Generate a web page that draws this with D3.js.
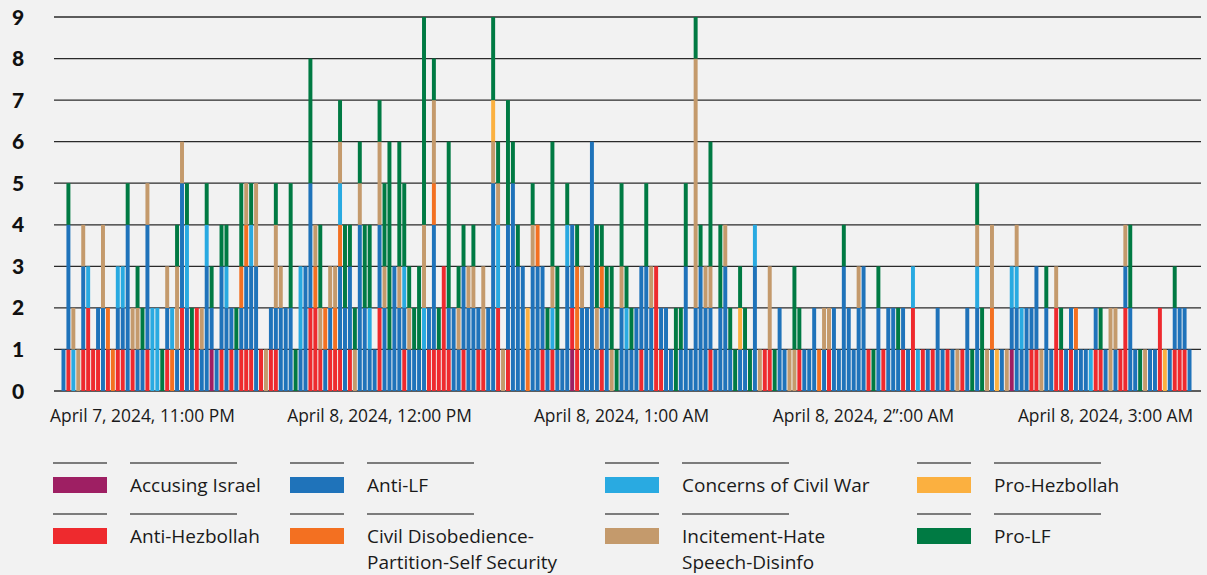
<!DOCTYPE html>
<html>
<head>
<meta charset="utf-8">
<script src="https://cdn.jsdelivr.net/npm/d3@7"></script>
<style>
  html, body { margin: 0; padding: 0; background: #f2f2f2; }
  svg { display: block; font-family: "Open Sans", Lato, sans-serif; }
</style>
</head>
<body>
<svg id="chart" width="1207" height="575"></svg>
<script>
// categories in stacking order (bottom -> top), with the short code used in `bars`
const categories = ["Accusing Israel", "Anti-Hezbollah", "Anti-LF",
  "Civil Disobedience-Partition-Self Security", "Concerns of Civil War",
  "Incitement-Hate Speech-Disinfo", "Pro-Hezbollah", "Pro-LF"];
const categoryCodes = ["A", "H", "L", "D", "C", "I", "Z", "P"];
const categoryColors = ["#9e1f63", "#ee2a2e", "#1f73ba", "#f37021", "#29aae1", "#c49a6c", "#fbb040", "#007a43"];

// one entry per time bar: counts per category code
const bars = [
  "L1","H1L3P1","C1I1","I1","H1L2I1","H2C1","H1","H1L1","L2I2","H1D1",
  "D1","H1L1C1","H1L1C1","L4P1","H1I1","L1I1P1","L1P1","H1L3I1","C2","C2",
  "P1","H1L1I1","D1C1","L1I2P1","H2L3I1","L2C2P1","L1P1","H2","L1I1","L3C1P1",
  "A1L1P1","L1","H1L2P1","L2C1P1","H1L1","L1P1","H1L1D1P2","H1L2D1I1","H1L2C1P1","L3I2",
  "H1","I1","H1L1","H1L1I2P1","L2I1","L2","L2P3","P1","L1C2","L3",
  "H2L3P3","H2D1I1","H1I1P2","L1D1","H1L1I1","H1D1I1","H1L2D1C1I1P1","L2P2","H1L2P1","I1P1",
  "L4I1P1","L2P2","L1C1P2","L1","H2L2I2P1","L2I1P2","L1P5","L3","L2I1P3","H1L1C1P2",
  "L1I1P1","L1P1","L1P2","L1C1I2P5","H1L1","H1L3D1I2P1","H1P1","H3","H1L1P4","L2",
  "L1I1P1","H1L2P1","L2I1","L2I1P1","H1L1","H1I2","L2","L5I1Z1P2","H2C2I1P1","I1",
  "H1L3P3","L5P1","L3P1","L3","D1Z1","L3I1P1","L3D1","H1L2","L1P1","H1C1I1P3",
  "L1P2","L1","L3C1P1","A1H1L2","H1D2P1","L2I1","L2","L6","L1I1P2","H1L1D1P1",
  "L2P1","I1P2","P1","L2I1P2","L1C1P1","L1P1","L2","H1L2","L3P2","L2I1",
  "H3","H1L1","L2","L1","P2","L1P1","L3P2","L1","L2I6P1","L3P1",
  "L2I1","H1L1I1P3","L1","L2P2","L3I1","L1P1","P1","L1Z1P1","L1P1","P1",
  "L3C1","I1","H1","H1I2","P1","L2","L1","I1","I1P2","H1P1",
  "L1","L1","L2","D1","L1I1","H1I1","L2","L1","L3P1","L2",
  "L1","L2I1","L3","H1","P1","L2P1","H1","L2","L2","L1P1",
  "H1L1","L1","H2C1","C1","H1","L1","H1","L2","L1","H1",
  "L1","I1","H1","L2","P1","L2C1I1P1","P2","I1","L1D1I2","Z1",
  "L1","I1","A1L1C1","L2C1I1","L1C1","L2","H1L1","H1L2","I1","L2P1",
  "L1","H2I1","H1P1","L1","H1L1","L1D1","L1","L1","C1","H1L1",
  "H1P1","L1","I2","L1I1","H1","H2L1I1","L2P2","L1","P1","I1",
  "L1","L1","H2","Z1","L1","H1L1P1","H1L1","H1L1","L1"
];

// x-axis labels and the bar they sit under
const tickIndex = [16, 64, 113, 162, 211];
const tickLabels = ["April 7, 2024, 11:00 PM", "April 8, 2024, 12:00 PM",
  "April 8, 2024, 1:00 AM", "April 8, 2024, 2\u201D:00 AM", "April 8, 2024, 3:00 AM"];
const yTicks = [0, 1, 2, 3, 4, 5, 6, 7, 8, 9];

// build the table d3.stack needs
const rows = bars.map((code, i) => {
  const row = { i };
  categoryCodes.forEach(k => row[k] = 0);
  for (const m of code.matchAll(/([A-Z])(\d+)/g)) row[m[1]] += +m[2];
  return row;
});

const svg = d3.select("#chart");

const x = d3.scaleBand()
  .domain(rows.map(d => d.i))
  .range([61, 1192])
  .paddingInner(0.2)
  .paddingOuter(0.1);

const y = d3.scaleLinear().domain([0, 9]).range([391, 17]);

const color = d3.scaleOrdinal().domain(categoryCodes).range(categoryColors);

// gridlines
svg.append("g").attr("class", "grid")
  .selectAll("line")
  .data(yTicks)
  .join("line")
  .attr("x1", 54).attr("x2", 1201)
  .attr("y1", d => y(d)).attr("y2", d => y(d))
  .attr("stroke", "#2a2a2a")
  .attr("stroke-width", 1.3);

// y labels
svg.append("g").attr("class", "y-labels")
  .selectAll("text")
  .data(yTicks)
  .join("text")
  .attr("x", 18)
  .attr("y", d => y(d))
  .attr("dy", "0.36em")
  .attr("text-anchor", "middle")
  .attr("font-family", "Lato, sans-serif")
  .attr("font-size", 21)
  .attr("font-weight", 900)
  .attr("fill", "#111")
  .text(d => d);

// stacked bars
const series = d3.stack().keys(categoryCodes)(rows);

svg.append("g").attr("class", "bars")
  .selectAll("g")
  .data(series)
  .join("g")
  .attr("fill", d => color(d.key))
  .selectAll("rect")
  .data(d => d.filter(s => s[1] > s[0]))
  .join("rect")
  .attr("x", d => x(d.data.i))
  .attr("y", d => y(d[1]))
  .attr("width", x.bandwidth())
  .attr("height", d => y(d[0]) - y(d[1]));

// x labels
svg.append("g").attr("class", "x-labels")
  .selectAll("text")
  .data(tickIndex)
  .join("text")
  .attr("x", d => x(d) + x.bandwidth() / 2)
  .attr("y", 422)
  .attr("text-anchor", "middle")
  .attr("font-size", 17.4)
  .attr("fill", "#1a1a1a")
  .text((d, k) => tickLabels[k]);

// legend: 2 rows, filled column by column
const legendCols = [53, 290, 605, 917];
const legendRows = [463, 514];
const legend = svg.append("g").attr("class", "legend")
  .selectAll("g")
  .data(categories)
  .join("g")
  .attr("transform", (d, k) => `translate(${legendCols[Math.floor(k / 2)]},${legendRows[k % 2]})`);

legend.append("line").attr("x1", 0).attr("x2", 54).attr("y1", 0).attr("y2", 0)
  .attr("stroke", "#555").attr("stroke-width", 1.5);
legend.append("line").attr("x1", 77).attr("x2", 184).attr("y1", 0).attr("y2", 0)
  .attr("stroke", "#555").attr("stroke-width", 1.5);
legend.append("rect")
  .attr("x", 0).attr("y", 14).attr("width", 54).attr("height", 16)
  .attr("fill", (d, k) => categoryColors[k]);

// long names go on two lines, split at the space/hyphen nearest the middle
function splitLabel(s) {
  if (s.length < 25) return [s];
  let best = 0;
  for (let j = 1; j < s.length; j++) {
    if ((s[j - 1] === " " || s[j - 1] === "-") && Math.abs(j - s.length / 2) < Math.abs(best - s.length / 2)) best = j;
  }
  return [s.slice(0, best).trim(), s.slice(best).trim()];
}

legend.each(function(d) {
  splitLabel(d).forEach((line, j) => {
    d3.select(this).append("text")
      .attr("x", 77).attr("y", 29 + j * 26)
      .attr("font-size", 19)
      .attr("fill", "#1a1a1a")
      .text(line);
  });
});
</script>
</body>
</html>
